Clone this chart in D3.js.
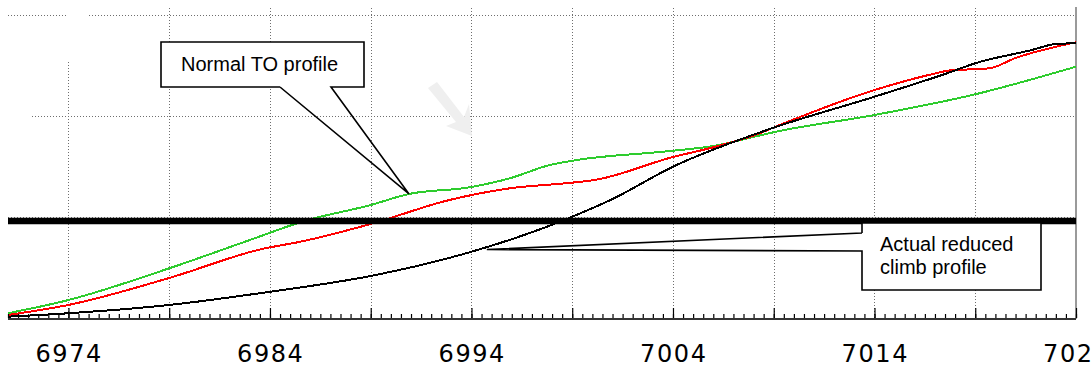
<!DOCTYPE html>
<html>
<head>
<meta charset="utf-8">
<script src="https://cdn.jsdelivr.net/npm/d3@7"></script>
<style>
  html, body { margin: 0; padding: 0; background: #fff; }
  svg { display: block; }
</style>
</head>
<body>
<svg id="chart" width="1091" height="369"></svg>
<script>
// ---------------- DATA ----------------
const xDomain = [6971, 7024];
const yDomain = [0, 300];
const majorTicks = [6974, 6979, 6984, 6989, 6994, 6999, 7004, 7009, 7014, 7019, 7024];
const tickLabels = ["6974", "6984", "6994", "7004", "7014", "7024"];
const gridY = [100, 200, 300];
const thresholdLevel = 96;

// Normal TO profile (green)
const greenProfile = [
  [6971.0, 4.7], [6974.0, 17.8], [6979.0, 49.2], [6983.0, 77.2], [6985.7, 96.0],
  [6989.0, 111.9], [6990.9, 122.8], [6993.9, 129.4], [6995.9, 138.3], [6997.9, 151.5],
  [6999.0, 155.7], [7004.0, 165.6], [7006.0, 170.3], [7008.3, 180.7], [7008.9, 183.5],
  [7014.0, 201.0], [7019.0, 221.5], [7024.0, 248.8]
];
// red profile
const redProfile = [
  [6971.0, 3.0], [6974.0, 12.9], [6979.0, 39.6], [6983.6, 68.3], [6985.5, 75.5],
  [6989.0, 93.1], [6992.9, 116.8], [6995.9, 128.4], [6999.0, 134.0], [7000.1, 136.6],
  [7004.0, 159.4], [7006.0, 169.0], [7008.3, 182.9], [7008.9, 187.8], [7014.0, 225.7],
  [7016.9, 241.6], [7017.7, 245.0], [7019.7, 247.2], [7021.0, 257.4], [7024.0, 273.0]
];
// Actual reduced climb profile (black)
const blackProfile = [
  [6971.0, 1.3], [6974.0, 4.7], [6979.0, 12.9], [6984.0, 26.0], [6989.0, 41.6],
  [6994.0, 65.6], [6997.4, 87.8], [6999.0, 100.3], [7000.9, 116.8], [7004.0, 149.8],
  [7008.9, 187.8], [7014.0, 219.1], [7017.6, 242.3], [7019.0, 252.2], [7021.8, 265.3],
  [7023.0, 271.3], [7024.0, 272.0]
];

const callout1 = { text: ["Normal TO profile"], anchor: [6990.9, 122.8] };
const callout2 = { text: ["Actual reduced", "climb profile"], anchor: [6994.76, 67.8] };

// ---------------- DRAW ----------------
const svg = d3.select("#chart");
const x = d3.scaleLinear().domain(xDomain).range([8, 1076]);
const y = d3.scaleLinear().domain(yDomain).range([318, 15]);

svg.append("rect").attr("width", 1091).attr("height", 369).attr("fill", "#fff");

// grid
const grid = svg.append("g").attr("stroke", "#6e6e6e").attr("stroke-width", 1)
  .attr("stroke-dasharray", "1,2").attr("shape-rendering", "crispEdges");
grid.selectAll(".gy").data(gridY).join("line")
  .attr("x1", 8).attr("x2", x(7024)).attr("y1", d => Math.round(y(d)) + 0.5).attr("y2", d => Math.round(y(d)) + 0.5);
grid.selectAll(".gx").data(majorTicks.filter(d => d < 7024)).join("line")
  .attr("x1", d => Math.round(x(d)) + 0.5).attr("x2", d => Math.round(x(d)) + 0.5)
  .attr("y1", 8).attr("y2", 318);

// erased patches in the original (top-left)
svg.append("rect").attr("x", 67).attr("y", 0).attr("width", 22).attr("height", 60).attr("fill", "#fff");
svg.append("rect").attr("x", 0).attr("y", 60).attr("width", 32).attr("height", 120).attr("fill", "#fff");

// right border
svg.append("line").attr("x1", x(7024)).attr("x2", x(7024)).attr("y1", 7).attr("y2", 319)
  .attr("stroke", "#9a9a9a").attr("stroke-width", 2);

// faint arrow
svg.append("path")
  .attr("d", "M428,88 L437,82 L464,117 L469,104 L472,136 L446,126 L456,122 Z")
  .attr("fill", "#efefef");

// curves
const line = d3.line().x(d => x(d[0])).y(d => y(d[1])).curve(d3.curveMonotoneX);
[[greenProfile, "#2ecc2e"], [redProfile, "#ff0000"], [blackProfile, "#000000"]].forEach(([data, col]) => {
  svg.append("path").datum(data).attr("d", line)
    .attr("fill", "none").attr("stroke", col).attr("stroke-width", 2)
    .attr("shape-rendering", "crispEdges");
});

// threshold thick line
svg.append("line").attr("x1", 8).attr("x2", x(7024))
  .attr("y1", y(thresholdLevel)).attr("y2", y(thresholdLevel))
  .attr("stroke", "#000").attr("stroke-width", 6.5);

// axis
const axisG = svg.append("g").attr("transform", "translate(0,318)");
const minorTicks = d3.range(6971, 7024.01, 0.5);
axisG.append("g").call(d3.axisTop(x).tickValues(minorTicks).tickSize(4).tickFormat(""))
  .call(g => g.select(".domain").remove());
axisG.append("g").call(d3.axisTop(x).tickValues(majorTicks).tickSize(10).tickFormat(""))
  .call(g => g.select(".domain").remove());
axisG.selectAll(".tick line").attr("stroke", "#000").attr("stroke-width", 1.2);
axisG.append("line").attr("x1", 8).attr("x2", x(7024)).attr("y1", 1).attr("y2", 1)
  .attr("stroke", "#333").attr("stroke-width", 2);

svg.append("g").selectAll("text").data(tickLabels).join("text")
  .attr("x", d => x(+d) + 0.8).attr("y", 362)
  .attr("text-anchor", "middle")
  .attr("font-family", "DejaVu Sans, sans-serif").attr("font-size", 24)
  .attr("letter-spacing", 1.6)
  .attr("fill", "#000").text(d => d);

// callout 1
const t1 = [x(callout1.anchor[0]), y(callout1.anchor[1])];
svg.append("rect").attr("x", 161).attr("y", 42).attr("width", 203).attr("height", 45).attr("fill", "#fff");
svg.append("path")
  .attr("d", `M280,87 H161 V42 H364 V87 H331 L${t1[0]},${t1[1]} L280,87`)
  .attr("fill", "none").attr("stroke", "#000").attr("stroke-width", 1.6).attr("stroke-linejoin", "miter");
svg.append("text").attr("x", 181).attr("y", 71)
  .attr("font-family", "Liberation Sans, Arial, sans-serif").attr("font-size", 20)
  .text(callout1.text[0]);

// callout 2
const t2 = [x(callout2.anchor[0]), y(callout2.anchor[1])];
svg.append("rect").attr("x", 862).attr("y", 223).attr("width", 179).attr("height", 67).attr("fill", "#fff");
svg.append("path")
  .attr("d", `M862,233 V223 H1041 V290 H862 V251 L${t2[0]},${t2[1]} L862,233`)
  .attr("fill", "none").attr("stroke", "#000").attr("stroke-width", 1.6);
svg.append("g").selectAll("text").data(callout2.text).join("text")
  .attr("x", 880).attr("y", (d, i) => 250.5 + i * 23)
  .attr("font-family", "Liberation Sans, Arial, sans-serif").attr("font-size", 20)
  .text(d => d);
</script>
</body>
</html>
